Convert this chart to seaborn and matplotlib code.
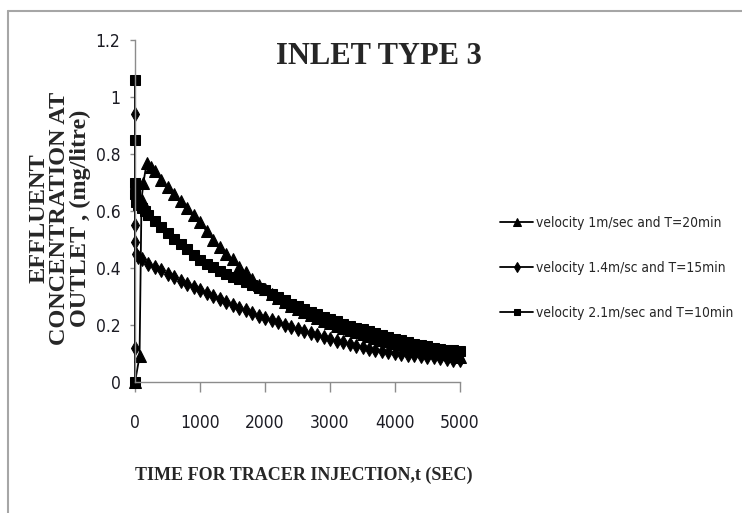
import matplotlib
matplotlib.use("Agg")
import matplotlib.pyplot as plt
import seaborn as sns
import pandas as pd
from matplotlib import font_manager as fm
from matplotlib.lines import Line2D

# ---------------- data ----------------
title = "INLET TYPE 3"
x_label = "TIME FOR TRACER INJECTION,t (SEC)"
y_label = "EFFLUENT\nCONCENTRATION AT\nOUTLET , (mg/litre)"

x_ticks = [0, 1000, 2000, 3000, 4000, 5000]
y_ticks = [0, 0.2, 0.4, 0.6, 0.8, 1.0, 1.2]
y_tick_labels = ["0", "0.2", "0.4", "0.6", "0.8", "1", "1.2"]

label_v1 = "velocity 1m/sec and T=20min"
label_v14 = "velocity 1.4m/sc and T=15min"
label_v21 = "velocity 2.1m/sec and T=10min"

t_v1 = [0, 70, 100, 130, 180, 250, 300, 400, 500, 600, 700, 800, 900, 1000,
        1100, 1200, 1300, 1400, 1500, 1600, 1700, 1800, 1900, 2000, 2100,
        2200, 2300, 2400, 2500, 2600, 2700, 2800, 2900, 3000, 3100, 3200,
        3300, 3400, 3500, 3600, 3700, 3800, 3900, 4000, 4100, 4200, 4300,
        4400, 4500, 4600, 4700, 4800, 4900, 5000]
c_v1 = [0.00, 0.09, 0.64, 0.70, 0.77, 0.755, 0.74, 0.71, 0.685, 0.66, 0.635,
        0.61, 0.585, 0.56, 0.53, 0.50, 0.475, 0.45, 0.43, 0.405, 0.385, 0.36,
        0.34, 0.325, 0.31, 0.295, 0.28, 0.268, 0.256, 0.245, 0.235, 0.225,
        0.215, 0.206, 0.198, 0.19, 0.182, 0.175, 0.168, 0.161, 0.155, 0.149,
        0.143, 0.138, 0.132, 0.127, 0.122, 0.117, 0.112, 0.107, 0.102, 0.097,
        0.092, 0.088]

t_v14 = [0, 0, 0, 0, 20, 50, 100, 200, 300, 400, 500, 600, 700, 800, 900,
         1000, 1100, 1200, 1300, 1400, 1500, 1600, 1700, 1800, 1900, 2000,
         2100, 2200, 2300, 2400, 2500, 2600, 2700, 2800, 2900, 3000, 3100,
         3200, 3300, 3400, 3500, 3600, 3700, 3800, 3900, 4000, 4100, 4200,
         4300, 4400, 4500, 4600, 4700, 4800, 4900, 5000]
c_v14 = [0.12, 0.94, 0.55, 0.49, 0.45, 0.44, 0.43, 0.415, 0.403, 0.392, 0.38,
         0.368, 0.356, 0.345, 0.334, 0.323, 0.312, 0.302, 0.291, 0.281, 0.271,
         0.261, 0.251, 0.242, 0.233, 0.225, 0.217, 0.209, 0.201, 0.194, 0.186,
         0.179, 0.172, 0.165, 0.158, 0.151, 0.145, 0.139, 0.133, 0.127, 0.122,
         0.117, 0.113, 0.109, 0.105, 0.102, 0.099, 0.096, 0.093, 0.091, 0.088,
         0.086, 0.083, 0.081, 0.078, 0.076]

t_v21 = [0, 0, 0, 0, 0, 20, 50, 100, 150, 200, 300, 400, 500, 600, 700, 800,
         900, 1000, 1100, 1200, 1300, 1400, 1500, 1600, 1700, 1800, 1900,
         2000, 2100, 2200, 2300, 2400, 2500, 2600, 2700, 2800, 2900, 3000,
         3100, 3200, 3300, 3400, 3500, 3600, 3700, 3800, 3900, 4000, 4100,
         4200, 4300, 4400, 4500, 4600, 4700, 4800, 4900, 5000]
c_v21 = [0.00, 1.06, 0.85, 0.70, 0.66, 0.63, 0.62, 0.61, 0.60, 0.585, 0.565,
         0.545, 0.523, 0.503, 0.485, 0.465, 0.447, 0.428, 0.415, 0.402, 0.39,
         0.38, 0.37, 0.36, 0.35, 0.34, 0.331, 0.323, 0.31, 0.298, 0.287,
         0.275, 0.266, 0.256, 0.246, 0.237, 0.228, 0.22, 0.213, 0.205, 0.198,
         0.191, 0.185, 0.178, 0.172, 0.165, 0.158, 0.152, 0.146, 0.14, 0.135,
         0.13, 0.125, 0.12, 0.117, 0.114, 0.112, 0.11]

# ---------------- style ----------------
sns.set_theme(style="white")
names = {f.name for f in fm.fontManager.ttflist}
serif = "Liberation Serif" if "Liberation Serif" in names else "DejaVu Serif"

# look for a narrow / condensed sans face (Calibri-like look of the reference)
narrow_path = None
for f in fm.fontManager.ttflist:
    nm = (f.name + " " + f.fname).lower()
    if ("narrow" in nm or "condensed" in nm) and "serif" not in nm \
            and f.style == "normal" and f.weight in (400, "normal", "regular", "book") \
            and "mono" not in nm:
        narrow_path = f.fname
        break
if narrow_path:
    sans_prop = fm.FontProperties(fname=narrow_path)
else:
    fam = "Lato" if "Lato" in names else "DejaVu Sans"
    sans_prop = fm.FontProperties(family=fam)
plt.rcParams["font.family"] = [sans_prop.get_name() if narrow_path else sans_prop.get_family()[0],
                               "DejaVu Sans"]

W, H = 742, 513
fig = plt.figure(figsize=(W / 100, H / 100), dpi=100)
fig.patch.set_facecolor("white")
ax = fig.add_axes([135 / W, 131 / H, 325 / W, 342 / H])

series = [
    (t_v1, c_v1, label_v1, "^", 8.5),
    (t_v14, c_v14, label_v14, "d", 7),
    (t_v21, c_v21, label_v21, "s", 7),
]
for t, c, lab, mk, ms in series:
    df = pd.DataFrame({"t": t, "c": c})
    sns.lineplot(data=df, x="t", y="c", sort=False, estimator=None,
                 color="black", marker=mk, markersize=ms, linewidth=1.3,
                 markeredgecolor="black", markerfacecolor="black",
                 label=lab, ax=ax, clip_on=False)

ax.set_xlim(0, 5000)
ax.set_ylim(0, 1.2)
ax.set_xticks(x_ticks)
ax.set_xticklabels([str(v) for v in x_ticks])
ax.set_yticks(y_ticks)
ax.set_yticklabels(y_tick_labels)
ax.set_xlabel("")
ax.set_ylabel("")
sns.despine(ax=ax)
for s in ("left", "bottom"):
    ax.spines[s].set_color("#8c8c8c")
    ax.spines[s].set_linewidth(1.0)
tick_col = "#1c1c24"
tick_size = 12.5 if narrow_path else 11.5
ax.tick_params(axis="x", direction="out", length=7, width=1, color="#8c8c8c",
               pad=16, labelcolor=tick_col, bottom=True)
ax.tick_params(axis="y", direction="out", length=3.5, width=1, color="#8c8c8c",
               pad=7, labelcolor=tick_col, left=True)
for lbl in ax.get_xticklabels() + ax.get_yticklabels():
    lbl.set_fontproperties(sans_prop)
    lbl.set_fontsize(tick_size)

ax.get_legend().remove()
handles, labels = ax.get_legend_handles_labels()

# fit legend text so the longest entry is ~198 px wide as in the reference
renderer = fig.canvas.get_renderer()
probe = fig.text(0, 0, label_v21, fontproperties=sans_prop, fontsize=12)
wpx = probe.get_window_extent(renderer).width
probe.remove()
leg_size = 12 * 198.0 / wpx
leg_px = leg_size * 100 / 72
leg_prop = sans_prop.copy()
leg_prop.set_size(leg_size)
row_gap = 47.5
fig.legend(handles, labels, loc="center left",
           bbox_to_anchor=(500 / W, 1 - 268 / H), frameon=False,
           prop=leg_prop, labelspacing=max(0.2, (row_gap - 1.17 * leg_px) / leg_px),
           handlelength=33 / leg_px, handletextpad=3 / leg_px,
           markerscale=0.7, borderpad=0, borderaxespad=0)

fig.text(379 / W, 1 - 57 / H, title, ha="center", va="center",
         fontsize=22, fontweight="bold", family=serif)
fig.text(304 / W, 1 - 475 / H, x_label, ha="center", va="center",
         fontsize=13, fontweight="bold", family=serif)
fig.text(60 / W, 1 - 218 / H, y_label, ha="center", va="center",
         rotation=90, multialignment="center", linespacing=0.98,
         fontsize=17.5, fontweight="bold", family=serif)

# outer frame (top and left edges visible in the reference)
fig.add_artist(Line2D([8 / W, 8 / W], [0, 1 - 11 / H], transform=fig.transFigure,
                      color="#a6a6a6", lw=1.5))
fig.add_artist(Line2D([8 / W, 1], [1 - 11 / H, 1 - 11 / H], transform=fig.transFigure,
                      color="#a6a6a6", lw=1.5))

fig.savefig("out.png", dpi=100)
